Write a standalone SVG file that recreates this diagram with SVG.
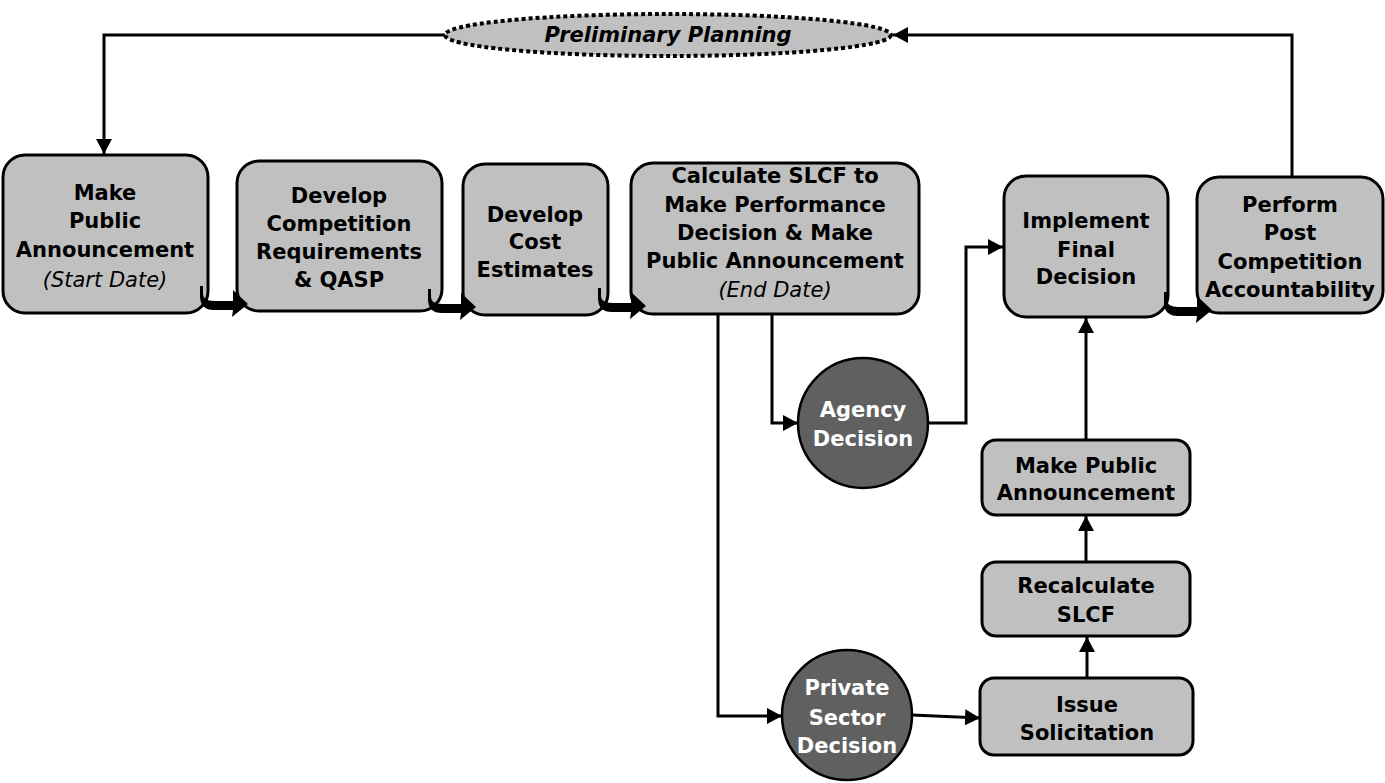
<svg xmlns="http://www.w3.org/2000/svg" width="1385" height="783" viewBox="0 0 1385 783">
<style>
.box{fill:#c0c0c0;stroke:#000;stroke-width:3}
.circ{fill:#606060;stroke:#000;stroke-width:2.5}
.t{font-family:"DejaVu Sans",Verdana,sans-serif;font-weight:bold;font-size:21px;text-anchor:middle;fill:#000}
.w{fill:#fff}
.i{font-family:"DejaVu Sans",Verdana,sans-serif;font-style:italic;font-weight:normal;font-size:21px;text-anchor:middle;fill:#000}
.ln{fill:none;stroke:#000;stroke-width:3;marker-end:url(#ah)}
</style>
<defs>
<marker id="ah" markerUnits="userSpaceOnUse" markerWidth="18" markerHeight="18" refX="15" refY="8" orient="auto">
<path d="M0,0 L15,8 L0,16 Z" fill="#000"/>
</marker>
<path id="curv" d="M0,0 L0,10 Q0,24 14,24 L33,24 L32,31 L48,18 L33,4 L33,15 L14,15 Q3,15 3,8 L3,0 Z" fill="#000"/>
</defs>
<rect width="1385" height="783" fill="#fff"/>

<g id="prelim">
<ellipse cx="668" cy="35" rx="223" ry="21" fill="#c0c0c0" stroke="#000" stroke-width="4" stroke-dasharray="4 3"/>
<text class="t" x="668" y="42" font-style="italic">Preliminary Planning</text>
</g>

<g id="n1">
<rect class="box" x="3" y="155" width="205" height="158" rx="22"/>
<text class="t" x="105" y="200">Make</text>
<text class="t" x="105" y="228">Public</text>
<text class="t" x="105" y="257">Announcement</text>
<text class="i" x="105" y="287">(Start Date)</text>
</g>

<g id="n2">
<rect class="box" x="237" y="161" width="205" height="150" rx="22"/>
<text class="t" x="339" y="203">Develop</text>
<text class="t" x="339" y="231">Competition</text>
<text class="t" x="339" y="259">Requirements</text>
<text class="t" x="339" y="287">&amp; QASP</text>
</g>

<g id="n3">
<rect class="box" x="463" y="164" width="145" height="151" rx="22"/>
<text class="t" x="535" y="222">Develop</text>
<text class="t" x="535" y="249">Cost</text>
<text class="t" x="535" y="277">Estimates</text>
</g>

<g id="n4">
<rect class="box" x="631" y="163" width="288" height="151" rx="22"/>
<text class="t" x="775" y="183">Calculate SLCF to</text>
<text class="t" x="775" y="212">Make Performance</text>
<text class="t" x="775" y="240">Decision &amp; Make</text>
<text class="t" x="775" y="268">Public Announcement</text>
<text class="i" x="775" y="297">(End Date)</text>
</g>

<g id="n5">
<rect class="box" x="1004" y="176" width="164" height="141" rx="22"/>
<text class="t" x="1086" y="228">Implement</text>
<text class="t" x="1086" y="257">Final</text>
<text class="t" x="1086" y="284">Decision</text>
</g>

<g id="n6">
<rect class="box" x="1197" y="177" width="186" height="136" rx="22"/>
<text class="t" x="1290" y="212">Perform</text>
<text class="t" x="1290" y="240">Post</text>
<text class="t" x="1290" y="269">Competition</text>
<text class="t" x="1290" y="297">Accountability</text>
</g>

<g id="agency">
<circle class="circ" cx="863" cy="423" r="65"/>
<text class="t w" x="863" y="417">Agency</text>
<text class="t w" x="863" y="446">Decision</text>
</g>

<g id="private">
<circle class="circ" cx="847" cy="715" r="65"/>
<text class="t w" x="847" y="695">Private</text>
<text class="t w" x="847" y="725">Sector</text>
<text class="t w" x="847" y="753">Decision</text>
</g>

<g id="issue">
<rect class="box" x="980" y="678" width="213" height="77" rx="14"/>
<text class="t" x="1087" y="712">Issue</text>
<text class="t" x="1087" y="740">Solicitation</text>
</g>

<g id="recalc">
<rect class="box" x="982" y="562" width="208" height="74" rx="14"/>
<text class="t" x="1086" y="593">Recalculate</text>
<text class="t" x="1086" y="622">SLCF</text>
</g>

<g id="makepub">
<rect class="box" x="982" y="440" width="208" height="75" rx="14"/>
<text class="t" x="1086" y="473">Make Public</text>
<text class="t" x="1086" y="500">Announcement</text>
</g>

<g id="connectors">
<path class="ln" d="M445,35 L104,35 L104,154"/>
<path class="ln" d="M1292,177 L1292,35 L893,35"/>
<path class="ln" d="M772,315 L772,423 L798,423"/>
<path class="ln" d="M928,423 L966,423 L966,247 L1003,247"/>
<path class="ln" d="M718,315 L718,716 L782,716"/>
<path class="ln" d="M912,715 L980,718"/>
<path class="ln" d="M1087,677 L1087,637"/>
<path class="ln" d="M1086,561 L1086,516"/>
<path class="ln" d="M1086,439 L1086,318"/>
<use href="#curv" x="200" y="286"/>
<use href="#curv" x="428" y="289"/>
<use href="#curv" x="598" y="288"/>
<use href="#curv" x="1164" y="292"/>
</g>
</svg>
